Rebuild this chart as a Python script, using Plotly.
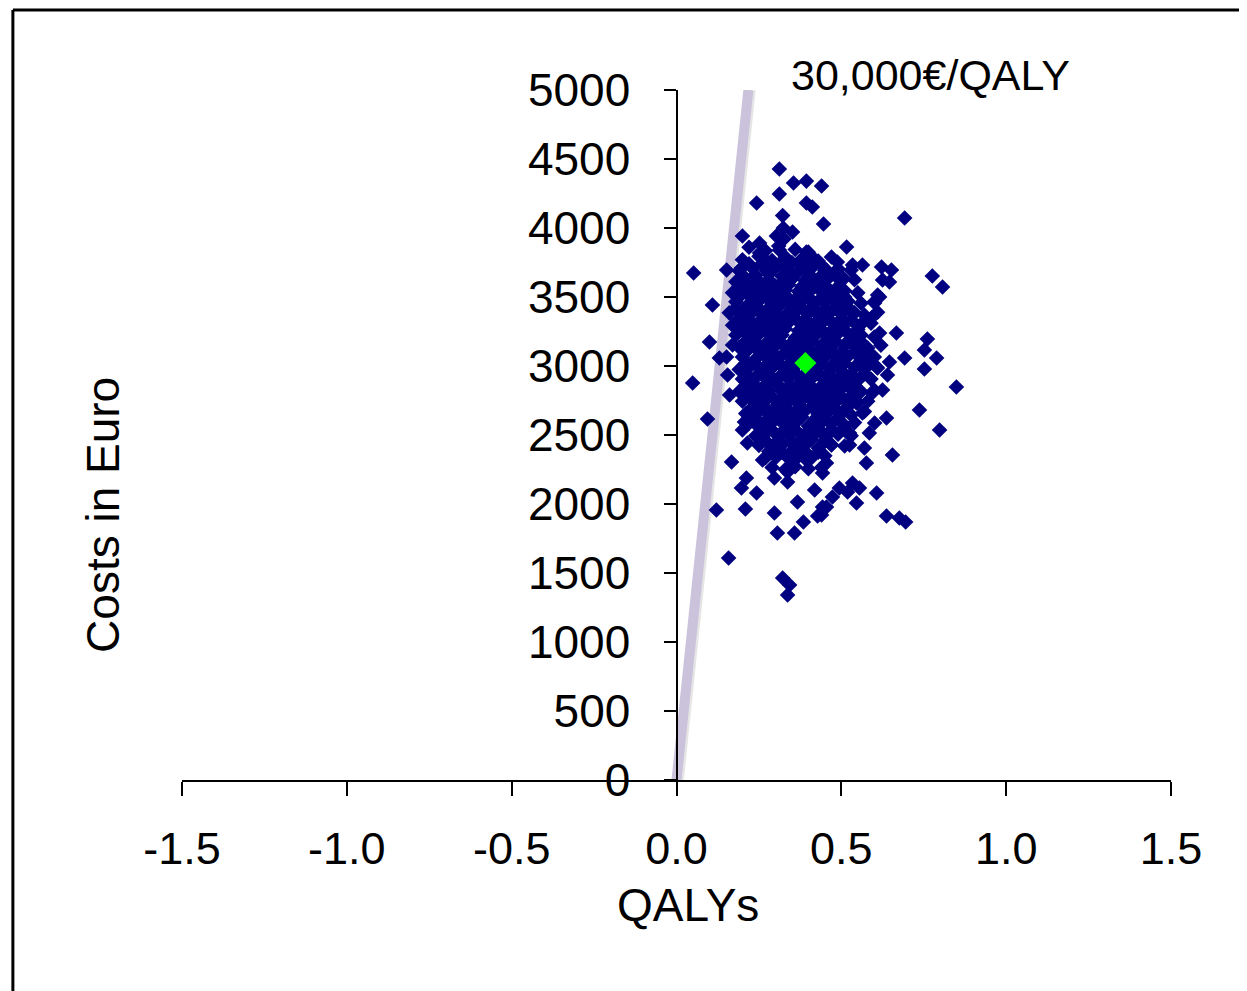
import plotly.graph_objects as go

# ---- data (QALYs, costs in Euro) ----
outlier_points = [
    (0.312, 4427), (0.355, 4326), (0.394, 4340), (0.440, 4304), (0.312, 4246), (0.243, 4181),
    (0.394, 4181), (0.412, 4152), (0.446, 4029), (0.200, 3942), (0.252, 3891), (0.303, 3942),
    (0.352, 3971), (0.052, 3674), (0.152, 3696), (0.197, 3710), (0.261, 3790), (0.312, 3841),
    (0.394, 3826), (0.252, 3819), (0.231, 3645), (0.282, 3717), (0.373, 3746), (0.412, 3790),
    (0.455, 3696), (0.212, 3529), (0.322, 3601), (0.434, 3551),
    (0.692, 4072), (0.516, 3862), (0.534, 3732), (0.564, 3732), (0.622, 3717), (0.652, 3696),
    (0.625, 3623), (0.646, 3609), (0.455, 3645), (0.503, 3645), (0.776, 3652), (0.807, 3572),
    (0.610, 3514), (0.494, 3551),
    (0.616, 3500), (0.601, 3456), (0.594, 3355), (0.616, 3239), (0.667, 3239), (0.761, 3196),
    (0.752, 3116), (0.692, 3058), (0.789, 3058), (0.646, 3029), (0.752, 2978), (0.640, 2935),
    (0.849, 2848), (0.625, 2826), (0.594, 2804), (0.737, 2681), (0.637, 2623), (0.601, 2587),
    (0.798, 2536), (0.525, 2514), (0.585, 2514), (0.564, 2659), (0.546, 2732), (0.585, 3043),
    (0.607, 2993), (0.555, 3116), (0.534, 3210), (0.564, 3312),
    (0.109, 3442), (0.100, 3174), (0.049, 2877), (0.155, 2935), (0.161, 2790), (0.170, 3152),
    (0.185, 3333), (0.206, 2594), (0.243, 2572), (0.130, 3058), (0.152, 3065), (0.094, 2616),
    (0.200, 2536), (0.215, 2442), (0.167, 2304), (0.261, 2319), (0.303, 2341), (0.212, 2188),
    (0.197, 2116), (0.243, 2080), (0.297, 2188), (0.337, 2159), (0.337, 2232), (0.121, 1957),
    (0.209, 1964), (0.297, 1935), (0.367, 2014), (0.385, 1870), (0.428, 1913), (0.306, 1790),
    (0.358, 1790), (0.158, 1609), (0.322, 1464), (0.343, 1413), (0.337, 1341), (0.419, 2101),
    (0.443, 1978), (0.394, 2319),
    (0.464, 2514), (0.525, 2500), (0.470, 2428), (0.525, 2428), (0.570, 2406), (0.655, 2355),
    (0.576, 2297), (0.455, 2297), (0.443, 2225), (0.494, 2116), (0.534, 2152), (0.555, 2116),
    (0.519, 2087), (0.607, 2080), (0.546, 2007), (0.473, 2051), (0.455, 1978), (0.440, 1920),
    (0.637, 1913), (0.676, 1899), (0.695, 1870),
    (0.322, 4090), (0.324, 4000), (0.326, 3920), (0.488, 3754),
]

core_points = [
    (0.22, 3860), (0.27, 3835), (0.31, 3870), (0.36, 3845), (0.40, 3825),
    (0.20, 3770), (0.25, 3795), (0.29, 3765), (0.33, 3790), (0.38, 3775), (0.43, 3760), (0.47, 3790),
    (0.19, 3690), (0.23, 3710), (0.27, 3695), (0.30, 3715), (0.34, 3700), (0.37, 3685), (0.41, 3710),
    (0.45, 3690), (0.49, 3705), (0.53, 3695),
    (0.18, 3610), (0.21, 3630), (0.25, 3615), (0.28, 3625), (0.32, 3605), (0.35, 3630), (0.39, 3620),
    (0.42, 3610), (0.46, 3635), (0.50, 3615), (0.54, 3625),
    (0.17, 3530), (0.20, 3550), (0.24, 3535), (0.27, 3545), (0.30, 3525), (0.33, 3550), (0.37, 3540),
    (0.40, 3530), (0.44, 3555), (0.47, 3535), (0.51, 3545), (0.55, 3530),
    (0.18, 3465), (0.22, 3450), (0.25, 3470), (0.29, 3455), (0.32, 3465), (0.35, 3445), (0.38, 3470),
    (0.42, 3455), (0.45, 3460), (0.49, 3450), (0.52, 3470), (0.56, 3455), (0.60, 3465),
    (0.16, 3385), (0.20, 3370), (0.23, 3390), (0.26, 3375), (0.30, 3385), (0.33, 3365), (0.36, 3390),
    (0.40, 3380), (0.43, 3370), (0.47, 3395), (0.50, 3375), (0.54, 3385), (0.57, 3370), (0.61, 3390),
    (0.17, 3295), (0.21, 3310), (0.24, 3290), (0.28, 3305), (0.31, 3295), (0.34, 3315), (0.38, 3300),
    (0.41, 3290), (0.44, 3310), (0.48, 3295), (0.51, 3305), (0.55, 3290), (0.59, 3310),
    (0.18, 3225), (0.22, 3210), (0.25, 3230), (0.29, 3215), (0.32, 3225), (0.36, 3205), (0.39, 3230),
    (0.42, 3220), (0.46, 3210), (0.49, 3235), (0.53, 3215), (0.56, 3225), (0.60, 3210),
    (0.19, 3135), (0.23, 3150), (0.26, 3130), (0.30, 3145), (0.33, 3140), (0.37, 3155), (0.40, 3130),
    (0.44, 3145), (0.47, 3135), (0.51, 3150), (0.54, 3140), (0.58, 3130), (0.62, 3150),
    (0.20, 3065), (0.24, 3050), (0.27, 3070), (0.31, 3055), (0.35, 3060), (0.38, 3075), (0.42, 3050),
    (0.45, 3065), (0.49, 3055), (0.52, 3070), (0.56, 3050), (0.60, 3065),
    (0.19, 2975), (0.22, 2990), (0.26, 2970), (0.29, 2985), (0.33, 2975), (0.36, 2995), (0.40, 2970),
    (0.43, 2985), (0.47, 2980), (0.50, 2965), (0.54, 2990), (0.57, 2975), (0.61, 2985),
    (0.20, 2905), (0.23, 2890), (0.27, 2910), (0.30, 2895), (0.34, 2905), (0.38, 2885), (0.41, 2910),
    (0.45, 2900), (0.48, 2890), (0.52, 2910), (0.55, 2895), (0.59, 2905),
    (0.19, 2815), (0.22, 2830), (0.25, 2810), (0.28, 2825), (0.32, 2815), (0.35, 2835), (0.39, 2810),
    (0.42, 2825), (0.46, 2820), (0.49, 2805), (0.53, 2830), (0.56, 2815), (0.60, 2825),
    (0.20, 2745), (0.24, 2730), (0.27, 2750), (0.31, 2735), (0.34, 2745), (0.37, 2725), (0.41, 2750),
    (0.44, 2740), (0.48, 2730), (0.51, 2755), (0.55, 2735), (0.58, 2745),
    (0.21, 2655), (0.25, 2670), (0.28, 2650), (0.32, 2665), (0.35, 2655), (0.39, 2675), (0.43, 2650),
    (0.46, 2665), (0.50, 2660), (0.53, 2645), (0.57, 2670),
    (0.22, 2585), (0.26, 2570), (0.29, 2590), (0.33, 2575), (0.36, 2585), (0.40, 2565), (0.44, 2590),
    (0.47, 2580), (0.51, 2570), (0.54, 2590),
    (0.24, 2495), (0.27, 2510), (0.31, 2490), (0.34, 2505), (0.38, 2495), (0.42, 2515), (0.45, 2490),
    (0.49, 2505), (0.53, 2495),
    (0.25, 2425), (0.29, 2410), (0.32, 2430), (0.36, 2415), (0.39, 2425), (0.43, 2405), (0.47, 2430),
    (0.51, 2420),
    (0.27, 2335), (0.30, 2350), (0.34, 2330), (0.37, 2345), (0.41, 2335), (0.45, 2350),
    (0.29, 2265), (0.33, 2250), (0.36, 2270), (0.40, 2255), (0.44, 2265),
]

core_fill_points = [
    (0.22, 3740), (0.26, 3745), (0.31, 3735), (0.35, 3750), (0.39, 3740), (0.44, 3730),
    (0.20, 3660), (0.24, 3655), (0.28, 3665), (0.32, 3650), (0.36, 3660), (0.40, 3670), (0.44, 3655), (0.48, 3660),
    (0.19, 3580), (0.23, 3585), (0.26, 3575), (0.30, 3580), (0.34, 3590), (0.38, 3575), (0.41, 3580),
    (0.45, 3585), (0.49, 3575),
    (0.19, 3500), (0.23, 3495), (0.27, 3505), (0.31, 3500), (0.34, 3490), (0.37, 3505), (0.40, 3500),
    (0.44, 3495), (0.47, 3505), (0.51, 3500),
    (0.18, 3420), (0.21, 3425), (0.25, 3415), (0.28, 3420), (0.31, 3430), (0.35, 3415), (0.38, 3420),
    (0.41, 3425), (0.45, 3415), (0.48, 3420), (0.52, 3425),
    (0.19, 3340), (0.22, 3335), (0.26, 3345), (0.29, 3340), (0.32, 3330), (0.36, 3345), (0.39, 3340),
    (0.43, 3335), (0.46, 3345), (0.50, 3340), (0.53, 3335),
    (0.20, 3260), (0.23, 3265), (0.27, 3255), (0.30, 3260), (0.33, 3270), (0.37, 3255), (0.40, 3260),
    (0.44, 3265), (0.47, 3255), (0.51, 3260), (0.55, 3265),
    (0.21, 3180), (0.24, 3175), (0.28, 3185), (0.31, 3180), (0.35, 3170), (0.38, 3185), (0.41, 3180),
    (0.45, 3175), (0.48, 3185), (0.52, 3180), (0.56, 3175),
    (0.21, 3100), (0.25, 3105), (0.29, 3095), (0.33, 3100), (0.36, 3110), (0.40, 3095), (0.43, 3100),
    (0.47, 3105), (0.50, 3095), (0.54, 3100), (0.58, 3105),
    (0.21, 3020), (0.24, 3015), (0.28, 3025), (0.31, 3020), (0.34, 3010), (0.37, 3025), (0.41, 3020),
    (0.44, 3015), (0.48, 3025), (0.51, 3020), (0.55, 3015),
    (0.21, 2940), (0.25, 2945), (0.28, 2935), (0.32, 2940), (0.36, 2950), (0.39, 2935), (0.43, 2940),
    (0.46, 2945), (0.50, 2935), (0.53, 2940), (0.57, 2945),
    (0.21, 2860), (0.24, 2855), (0.27, 2865), (0.31, 2860), (0.34, 2850), (0.37, 2865), (0.40, 2860),
    (0.44, 2855), (0.47, 2865), (0.51, 2860), (0.54, 2855),
    (0.22, 2780), (0.25, 2785), (0.29, 2775), (0.33, 2780), (0.36, 2790), (0.39, 2775), (0.43, 2780),
    (0.46, 2785), (0.50, 2775), (0.53, 2780),
    (0.23, 2700), (0.27, 2695), (0.30, 2705), (0.33, 2700), (0.37, 2690), (0.41, 2705), (0.45, 2700),
    (0.48, 2695), (0.52, 2705),
    (0.24, 2620), (0.28, 2625), (0.31, 2615), (0.34, 2620), (0.38, 2630), (0.42, 2615), (0.45, 2620),
    (0.49, 2625),
    (0.26, 2540), (0.29, 2535), (0.33, 2545), (0.36, 2540), (0.40, 2530), (0.43, 2545), (0.47, 2540),
    (0.50, 2535),
    (0.27, 2460), (0.31, 2465), (0.35, 2455), (0.38, 2460), (0.41, 2470), (0.45, 2455),
    (0.28, 2380), (0.32, 2375), (0.35, 2385), (0.39, 2380), (0.43, 2375),
]

mean_qaly = [0.391]
mean_cost = [3022]

threshold_qalys = [0.0, 0.218]
threshold_costs = [0, 5000]
threshold_label = "30,000€/QALY"

x_ticks = [-1.5, -1.0, -0.5, 0.0, 0.5, 1.0, 1.5]
x_ticktext = ["-1.5", "-1.0", "-0.5", "0.0", "0.5", "1.0", "1.5"]
y_ticks = [0, 500, 1000, 1500, 2000, 2500, 3000, 3500, 4000, 4500, 5000]

all_points = outlier_points + core_points + core_fill_points
sim_qalys = [p[0] for p in all_points]
sim_costs = [p[1] for p in all_points]

FONT = "Arial, Liberation Sans, sans-serif"

fig = go.Figure()
# shadow of threshold line
fig.add_trace(go.Scatter(
    x=[v + 0.007 for v in threshold_qalys], y=threshold_costs, mode="lines",
    line=dict(color="rgba(0,0,0,0.10)", width=10), showlegend=False, hoverinfo="skip"))
fig.add_trace(go.Scatter(
    x=threshold_qalys, y=threshold_costs, mode="lines",
    line=dict(color="#cbc3dc", width=10), showlegend=False))
fig.add_trace(go.Scatter(
    x=sim_qalys, y=sim_costs, mode="markers",
    marker=dict(symbol="diamond", size=12, color="#000080", line=dict(width=0)),
    showlegend=False, cliponaxis=False))
fig.add_trace(go.Scatter(
    x=mean_qaly, y=mean_cost, mode="markers",
    marker=dict(symbol="diamond", size=17, color="#00ff00", line=dict(width=0)),
    showlegend=False))

# page body has an 8px margin, so the figure is offset by 8px
fig.update_layout(
    width=1247, height=991,
    margin=dict(l=174, r=84, t=82, b=219, autoexpand=False),
    paper_bgcolor="white", plot_bgcolor="white",
    font=dict(family=FONT, size=46, color="black"),
    xaxis=dict(range=[-1.5, 1.5], tickvals=x_ticks, ticktext=x_ticktext,
               showline=True, linecolor="black", linewidth=2,
               ticks="outside", ticklen=14, tickwidth=2, tickcolor="black",
               showgrid=False, zeroline=False, ticklabelstandoff=14, automargin=False,
               tickfont=dict(size=45, family=FONT, color="black")),
    yaxis=dict(range=[0, 5000], tickvals=y_ticks, anchor="free", position=0.5,
               showline=True, linecolor="black", linewidth=2,
               ticks="outside", ticklen=12, tickwidth=2, tickcolor="black",
               showgrid=False, zeroline=False, ticklabelstandoff=24, automargin=False,
               tickfont=dict(size=46, family=FONT, color="black")),
    annotations=[
        dict(text="QALYs", xref="paper", yref="paper", x=0.512, y=-0.181,
             xanchor="center", yanchor="middle",
             showarrow=False, font=dict(size=46, family=FONT, color="black")),
        dict(text="Costs in Euro", xref="paper", yref="paper", x=-0.08, y=0.384,
             xanchor="center", yanchor="middle",
             textangle=-90, showarrow=False, font=dict(size=46, family=FONT, color="black")),
        dict(text=threshold_label, xref="paper", yref="paper", x=0.757, y=1.022,
             xanchor="center", yanchor="middle",
             showarrow=False, font=dict(size=43, family=FONT, color="black")),
    ],
    shapes=[
        dict(type="line", xref="paper", yref="paper", x0=-0.171, x1=1.2, y0=1.116, y1=1.116,
             line=dict(color="black", width=3)),
        dict(type="line", xref="paper", yref="paper", x0=-0.171, x1=-0.171, y0=1.116, y1=-0.4,
             line=dict(color="black", width=3)),
    ],
)

fig.write_html("out.html")
